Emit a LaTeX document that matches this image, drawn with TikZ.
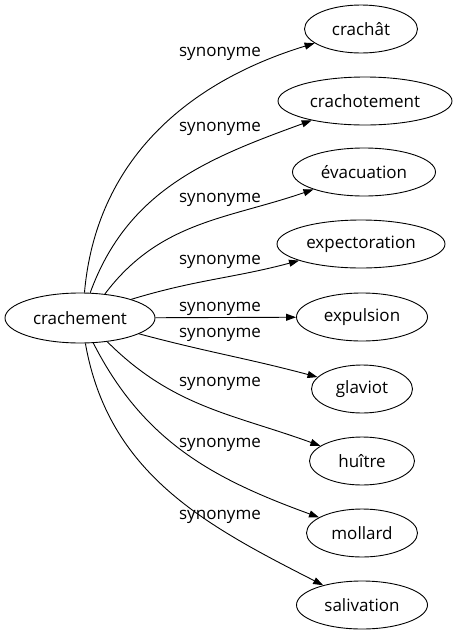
\documentclass[tikz,border=0pt]{standalone}
\usepackage{fontspec}
\setmainfont{Open Sans}
\usetikzlibrary{shapes.geometric, arrows.meta, positioning}

\begin{document}
\begin{tikzpicture}[
    x=1pt, y=1pt,
    word/.style={ellipse, draw, line width=0.9pt, inner sep=0pt, minimum height=48pt, font=\fontsize{17}{20}\selectfont},
    rel/.style={inner sep=0pt, font=\fontsize{17}{20}\selectfont},
    syn/.style={-{Triangle[length=10pt, width=7pt]}, line width=0.9pt}
]
\useasboundingbox (0,0) rectangle (453,-635);

% Headword
\node[word, minimum width=150pt, minimum height=50pt] (crachement) at (80,-318) {crachement};

% Synonyms
\node[word, minimum width=113pt] (crachat) at (361,-29) {crachât};
\node[word, minimum width=174pt] (crachotement) at (365,-101) {crachotement};
\node[word, minimum width=143pt] (evacuation) at (364,-172) {évacuation};
\node[word, minimum width=168pt] (expectoration) at (361,-244) {expectoration};
\node[word, minimum width=131pt] (expulsion) at (362,-317) {expulsion};
\node[word, minimum width=101pt] (glaviot) at (362,-389) {glaviot};
\node[word, minimum width=105pt] (huitre) at (362,-461) {huître};
\node[word, minimum width=111pt] (mollard) at (362,-533) {mollard};
\node[word, minimum width=131pt] (salivation) at (362,-605) {salivation};

% Labels
\node[rel] (l1) at (220,-54) {synonyme};
\node[rel] (l2) at (220,-129) {synonyme};
\node[rel] (l3) at (220,-200) {synonyme};
\node[rel] (l4) at (220,-262) {synonyme};
\node[rel] (l5) at (220,-309) {synonyme};
\node[rel] (l6) at (220,-335) {synonyme};
\node[rel] (l7) at (220,-384) {synonyme};
\node[rel] (l8) at (220,-445) {synonyme};
\node[rel] (l9) at (220,-517) {synonyme};

% Edges
\draw[syn] (crachement.80) to[out=85, in=197] (crachat);
\draw[syn] (crachement.68) to[out=70, in=200] (crachotement);
\draw[syn] (crachement.44) to[out=53, in=199] (evacuation);
\draw[syn] (crachement.20) to[out=17, in=195] (expectoration);
\draw[syn] (crachement) -- (expulsion);
\draw[syn] (crachement.-15) to[out=-15, in=165] (glaviot);
\draw[syn] (crachement.-41) to[out=-45, in=160] (huitre);
\draw[syn] (crachement.-62) to[out=-63, in=160] (mollard);
\draw[syn] (crachement.-78) to[out=-80, in=153] (salivation);

\end{tikzpicture}
\end{document}
